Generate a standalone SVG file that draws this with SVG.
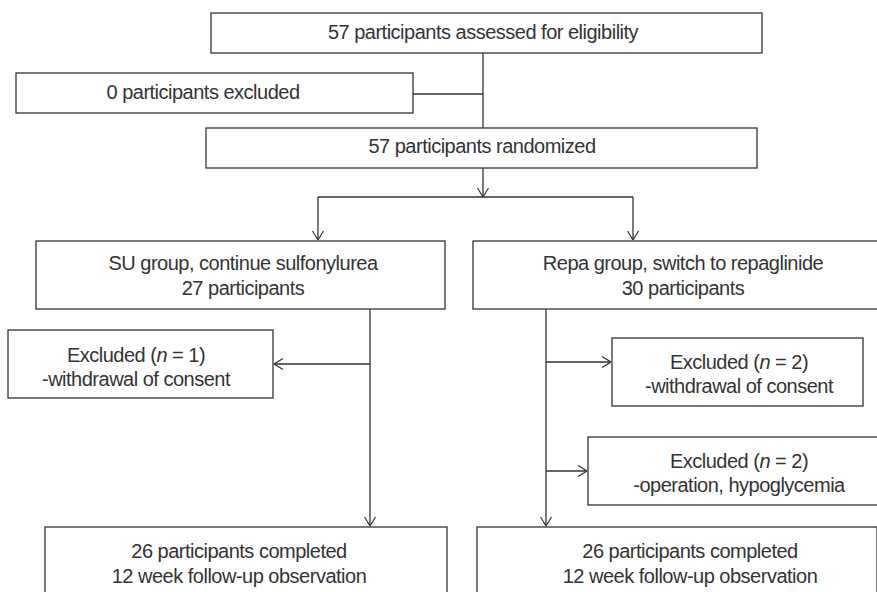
<svg xmlns="http://www.w3.org/2000/svg" width="877" height="592" viewBox="0 0 877 592">
<style>
.box{fill:#fff;stroke:#333;stroke-width:1.3}
.t{font-family:"Liberation Sans",Arial,sans-serif;font-size:20px;letter-spacing:-0.5px;fill:#333;text-anchor:middle}
.c{fill:none;stroke:#333;stroke-width:1.3}
.i{font-style:italic}
</style>
<defs>
<marker id="ah" viewBox="0 0 10 12" refX="10" refY="6" markerWidth="10" markerHeight="12" markerUnits="userSpaceOnUse" orient="auto">
<path d="M1,0.5 L10,6 L1,11.5" fill="none" stroke="#333" stroke-width="1.2"/>
</marker>
</defs>
<rect width="877" height="592" fill="#fff"/>
<g id="connectors">
<path class="c" d="M483,53 V128"/>
<path class="c" d="M273,94 H483"/>
<path class="c" d="M483,168 V197" marker-end="url(#ah)"/>
<path class="c" d="M318,197 H633"/>
<path class="c" d="M318,197 V240" marker-end="url(#ah)"/>
<path class="c" d="M633,197 V240" marker-end="url(#ah)"/>
<path class="c" d="M370,309 V526" marker-end="url(#ah)"/>
<path class="c" d="M370,364 H274" marker-end="url(#ah)"/>
<path class="c" d="M546,309 V526" marker-end="url(#ah)"/>
<path class="c" d="M546,362 H611" marker-end="url(#ah)"/>
<path class="c" d="M546,471 H587" marker-end="url(#ah)"/>
</g>
<g id="assessed">
<rect class="box" x="211" y="13" width="551" height="40"/>
<text class="t" x="483" y="39">57 participants assessed for eligibility</text>
</g>
<g id="excluded0">
<rect class="box" x="16" y="73" width="397" height="40"/>
<text class="t" x="203" y="99">0 participants excluded</text>
</g>
<g id="randomized">
<rect class="box" x="206" y="128" width="551" height="40"/>
<text class="t" x="482" y="153">57 participants randomized</text>
</g>
<g id="su">
<rect class="box" x="36" y="241" width="409" height="68"/>
<text class="t" x="243" y="270">SU group, continue sulfonylurea</text>
<text class="t" x="243" y="295">27 participants</text>
</g>
<g id="repa">
<rect class="box" x="473" y="241" width="420" height="68"/>
<text class="t" x="683" y="270">Repa group, switch to repaglinide</text>
<text class="t" x="683" y="295">30 participants</text>
</g>
<g id="su-excl">
<rect class="box" x="8" y="330" width="265" height="68"/>
<text class="t" x="136" y="362">Excluded (<tspan class="i">n</tspan> = 1)</text>
<text class="t" x="136" y="386">-withdrawal of consent</text>
</g>
<g id="repa-excl1">
<rect class="box" x="612" y="338" width="251" height="68"/>
<text class="t" x="739" y="369">Excluded (<tspan class="i">n</tspan> = 2)</text>
<text class="t" x="739" y="393">-withdrawal of consent</text>
</g>
<g id="repa-excl2">
<rect class="box" x="588" y="437" width="302" height="68"/>
<text class="t" x="739" y="468">Excluded (<tspan class="i">n</tspan> = 2)</text>
<text class="t" x="739" y="492">-operation, hypoglycemia</text>
</g>
<g id="su-done">
<rect class="box" x="45" y="527" width="402" height="80"/>
<text class="t" x="239" y="558">26 participants completed</text>
<text class="t" x="239" y="583">12 week follow-up observation</text>
</g>
<g id="repa-done">
<rect class="box" x="477" y="527" width="400" height="80"/>
<text class="t" x="690" y="558">26 participants completed</text>
<text class="t" x="690" y="583">12 week follow-up observation</text>
</g>
</svg>
